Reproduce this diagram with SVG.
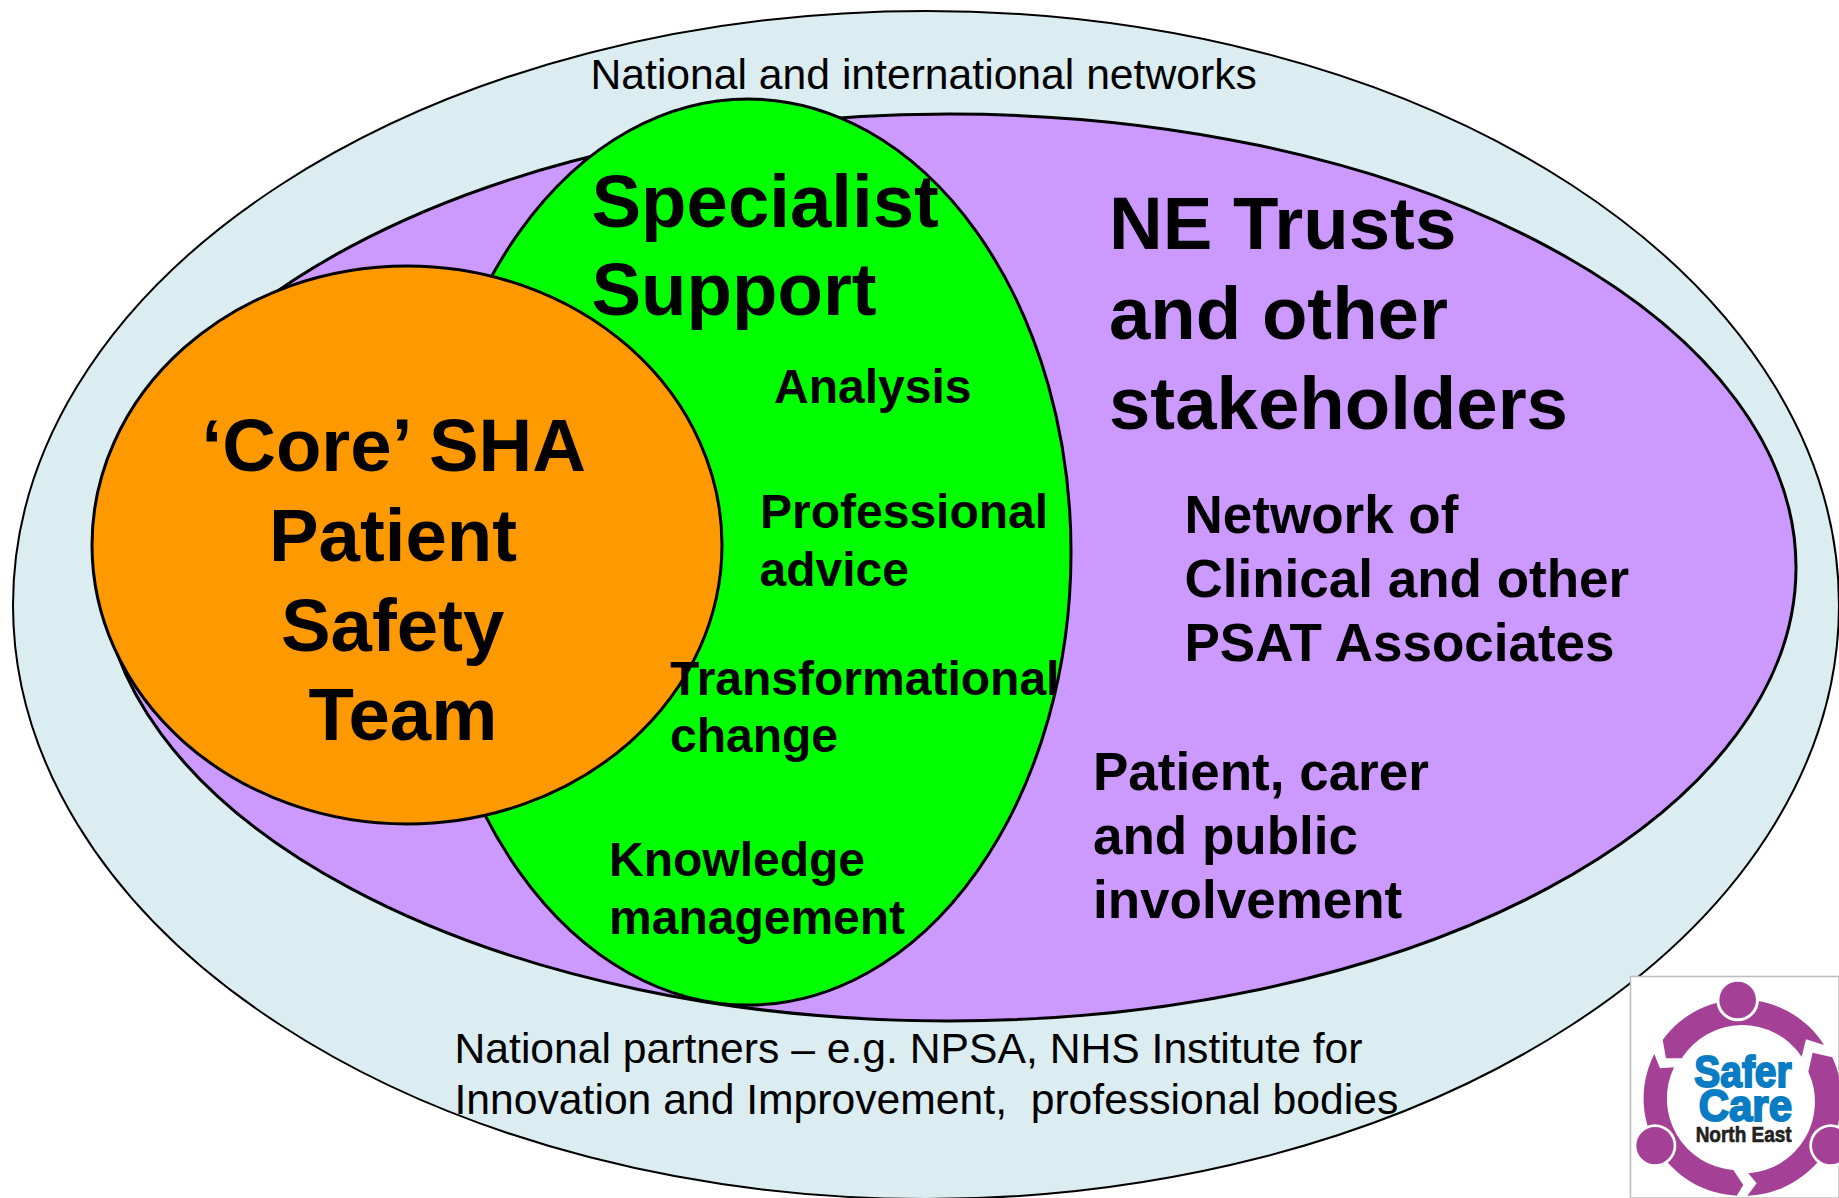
<svg xmlns="http://www.w3.org/2000/svg" width="1839" height="1198" viewBox="0 0 1839 1198">
<style>
text{font-family:"Liberation Sans",Arial,sans-serif;fill:#000;white-space:pre}
.e{stroke:#000;stroke-width:3}
.r{font-size:42.67px}
.h{font-size:74.4px;font-weight:700}
.m{font-size:48px;font-weight:700}
.l{font-size:53px;font-weight:700}
.p{fill:#a44096}
.b{fill:#0a7cc4;stroke:#0a7cc4;stroke-width:6}
</style>
<rect width="1839" height="1198" fill="#fff"/>
<g id="national-networks">
<ellipse cx="926" cy="605" rx="913" ry="594" fill="#dbedf0" stroke="#000" stroke-width="2"/>
<text class="r" x="590.500" y="89">National and international networks</text>
<text class="r" x="454.500" y="1062.500">National partners – e.g. NPSA, NHS Institute for</text>
<text class="r" x="454.500" y="1113.500">Innovation and Improvement,  professional bodies</text>
</g>
<g id="ne-trusts">
<ellipse class="e" cx="949" cy="567.500" rx="847" ry="453.500" fill="#cc99ff"/>
<text class="h" x="1109" y="249">NE Trusts</text>
<text class="h" x="1109" y="339">and other</text>
<text class="h" x="1109" y="429">stakeholders</text>
<text class="l" x="1184.500" y="533">Network of</text>
<text class="l" x="1184.500" y="597">Clinical and other</text>
<text class="l" x="1184.500" y="661">PSAT Associates</text>
<text class="l" x="1093" y="790">Patient, carer</text>
<text class="l" x="1093" y="854">and public</text>
<text class="l" x="1093" y="918">involvement</text>
</g>
<g id="specialist-support">
<ellipse class="e" cx="748" cy="552" rx="323" ry="453" fill="#00ff00"/>
</g>
<g id="core-team">
<ellipse class="e" cx="407" cy="545" rx="315" ry="279" fill="#ff9900"/>
<text class="h" x="201.500" y="471">‘Core’ SHA</text>
<text class="h" x="269" y="561">Patient</text>
<text class="h" x="281" y="651">Safety</text>
<text class="h" x="308.500" y="740">Team</text>
</g>
<g id="specialist-labels">
<text class="h" x="591.500" y="226.500">Specialist</text>
<text class="h" x="591.500" y="315">Support</text>
<text class="m" x="774" y="403">Analysis</text>
<text class="m" x="760" y="528">Professional</text>
<text class="m" x="759.500" y="586">advice</text>
<text class="m" x="670" y="695">Transformational</text>
<text class="m" x="670" y="752">change</text>
<text class="m" x="609" y="876">Knowledge</text>
<text class="m" x="609" y="934">management</text>
</g>
<g id="logo">
<path d="M1630.500 1198V976.500H1839V1198Z" fill="#fff" stroke="#bdbdbd" stroke-width="1.500"/>
<g transform="translate(1600 950) scale(.3333)">
<path class="p" d="M188 270A292 292 0 0 1 672 285L618 268L605 320A215 215 0 0 0 245 325L198 325Z"/>
<path class="p" d="M638 308L697 322A292 292 0 0 1 442 737L470 700L445 670A215 215 0 0 0 625 365Z"/>
<path class="p" d="M410 737L430 705L400 660A215 215 0 0 1 222 352L180 355L163 312A292 292 0 0 0 410 737Z"/>
<circle cx="413" cy="150" r="64" fill="#fff"/><circle class="p" cx="413" cy="150" r="55"/>
<circle cx="165" cy="587" r="64" fill="#fff"/><circle class="p" cx="165" cy="587" r="56"/>
<circle cx="692" cy="587" r="64" fill="#fff"/><circle class="p" cx="692" cy="587" r="56"/>
<text class="b" x="283" y="410" font-size="132" font-weight="700" textLength="292" lengthAdjust="spacingAndGlyphs">Safer</text>
<text class="b" x="296" y="514" font-size="132" font-weight="700" textLength="280" lengthAdjust="spacingAndGlyphs">Care</text>
<text x="287" y="575" font-size="66" font-weight="700" textLength="288" lengthAdjust="spacingAndGlyphs" style="fill:#222;stroke:#222;stroke-width:2">North East</text>
</g>
</g>
<g id="connectors"/>
</svg>
